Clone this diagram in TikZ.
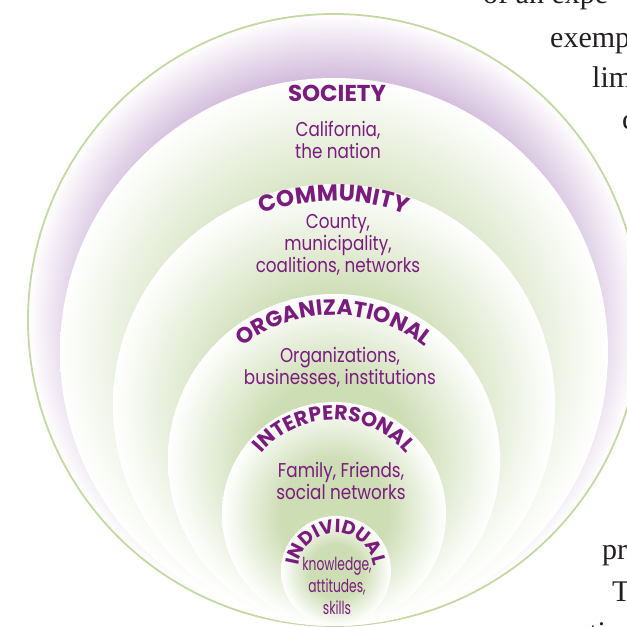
\documentclass[tikz,border=0pt]{standalone}
\usepackage{fontspec}
\usepackage{xcolor}
\usetikzlibrary{positioning,decorations.text,calc}
\setmainfont{Liberation Serif}
\newfontfamily\levelfont{Poppins}
\newfontfamily\bodyfont{Poppins}[FakeStretch=0.84]
\newfontfamily\narrowfont{Poppins}[FakeStretch=0.68]
\definecolor{levelpurple}{RGB}{122,28,126}
\definecolor{ringgreen}{RGB}{205,221,180}
\definecolor{ringpurple}{RGB}{212,190,221}
\definecolor{rimgreen}{RGB}{196,216,164}
\definecolor{pagetext}{RGB}{35,31,32}
\pgfdeclareradialshading{greenring}{\pgfpoint{0bp}{0bp}}{color(0bp)=(ringgreen); color(12bp)=(ringgreen); color(25bp)=(white); color(50bp)=(white)}
\pgfdeclareradialshading{purplering}{\pgfpoint{0bp}{0bp}}{color(0bp)=(ringpurple); color(20bp)=(ringpurple); color(25bp)=(white); color(50bp)=(white)}
\tikzset{
    ringdisk/.style={circle, shade, shading=greenring, inner sep=0pt, minimum size=#1},
    leveltitle/.style={font=\levelfont\bfseries\fontsize{23}{23}\selectfont, text=levelpurple, inner sep=0pt},
    leveltext/.style={font=\bodyfont\fontsize{20}{22}\selectfont, text=levelpurple, align=center, inner sep=0pt},
    arctitle/.style 2 args={decorate, decoration={text along path, text align=center,
        text={|\levelfont\bfseries\fontsize{#1}{#1}\selectfont\color{levelpurple}|#2}}},
    pageline/.style={font=\fontsize{30}{30}\selectfont, text=pagetext, anchor=base west, inner sep=0pt}
}

\begin{document}
\begin{tikzpicture}[x=1pt, y=1pt]
    \clip (0,0) rectangle (627,627);
    \useasboundingbox (0,0) rectangle (627,627);

    % Nested levels, all touching at one point at the bottom
    \coordinate (touch) at (334,1);
    \node [ringdisk=612pt, shading=purplering, draw=rimgreen, line width=1.8pt] (outer) at ([yshift=306pt]touch) {};
    \node [ringdisk=548pt] (society) at ([yshift=274pt]touch) {};
    \node [ringdisk=442pt] (community) at ([yshift=221pt]touch) {};
    \node [ringdisk=332pt] (organizational) at ([yshift=166pt]touch) {};
    \node [ringdisk=224pt] (interpersonal) at ([yshift=112pt]touch) {};
    \node [ringdisk=110pt] (individual) at ([shift={(2pt,55pt)}]touch) {};

    % Society
    \node [leveltitle] (societytitle) at ([shift={(3pt,-16pt)}]society.north) {SOCIETY};
    \node [leveltext] (societytext) at ([shift={(4pt,-62pt)}]society.north) {California,\\the nation};

    % Community
    \path [arctitle={23}{COMMUNITY}]
        ([shift={(150:204pt)}]community.center) arc[start angle=150, end angle=30, radius=204pt];
    \node [leveltext] (communitytext) at ([shift={(4pt,-61pt)}]community.north) {County,\\municipality,\\coalitions, networks};

    % Organizational
    \path [arctitle={22}{ORGANIZATIONAL}]
        ([shift={(170:145pt)}]organizational.center) arc[start angle=170, end angle=10, radius=145pt];
    \node [leveltext] (organizationaltext) at ([shift={(6pt,-74pt)}]organizational.north) {Organizations,\\businesses, institutions};

    % Interpersonal
    \path [arctitle={20.5}{INTERPERSONAL}]
        ([shift={(175:94pt)}]interpersonal.center) arc[start angle=175, end angle=5, radius=94pt];
    \node [leveltext] (interpersonaltext) at ([shift={(7pt,-79pt)}]interpersonal.north) {Family, Friends,\\social networks};

    % Individual
    \path [arctitle={19}{INDIVIDUAL}]
        ([shift={(195:38pt)}]individual.center) arc[start angle=195, end angle=-15, radius=38pt];
    \node [leveltext, font=\narrowfont\fontsize{18}{22}\selectfont] (individualtext) at ([shift={(1pt,-70pt)}]individual.north) {knowledge,\\attitudes,\\skills};

    % Running text beside the figure
    \node [pageline] (line1) at (483,623) {of an expe};
    \node [pageline] (line2) at (550,579) {exemp};
    \node [pageline] (line3) at (592,539) {lim};
    \node [pageline] (line4) at (622,497) {c};
    \node [pageline] (line5) at (602,67) {pr};
    \node [pageline] (line6) at (612,25) {T};
    \node [pageline] (line7) at (589,-16) {ti};
\end{tikzpicture}
\end{document}
